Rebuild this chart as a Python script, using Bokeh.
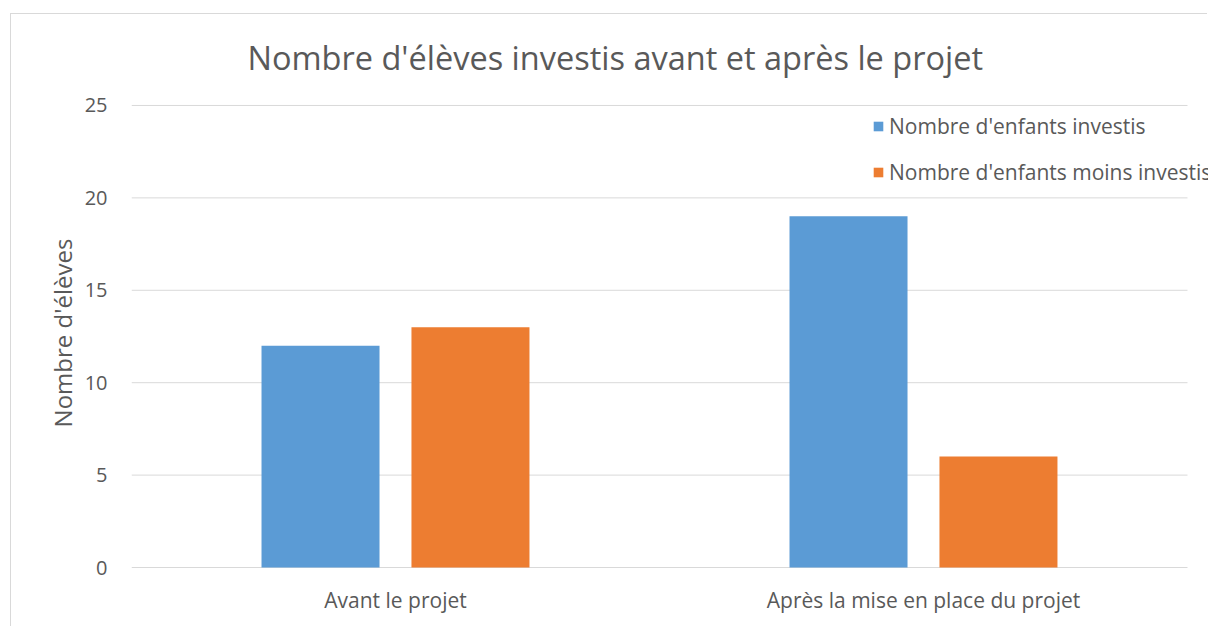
import numpy as np
from bokeh.plotting import figure
from bokeh.models import Range1d, Legend, LegendItem, Title, ColumnDataSource, FixedTicker
from bokeh.embed import file_html
from bokeh.resources import INLINE

categories = ["Avant le projet", "Après la mise en place du projet"]
investis = [12, 19]
moins_investis = [13, 6]
series_names = ["Nombre d'enfants investis", "Nombre d'enfants moins investis"]
colors = ["#5B9BD5", "#ED7D31"]
title_text = "Nombre d'élèves investis avant et après le projet"
y_label = "Nombre d'élèves"
y_ticks = [0, 5, 10, 15, 20, 25]

FONT = "Open Sans"
TXT = "#595959"
GRID = "#d9d9d9"

centers = np.arange(len(categories)) + 0.5

p = figure(width=1197, height=613, x_range=Range1d(0, 2.0398),
           y_range=Range1d(-0.054, 25.432), output_backend="svg", toolbar_location=None,
           min_border_left=120, min_border_right=0, min_border_top=82, min_border_bottom=59)
p.outline_line_color = None
p.styles = {"margin-left": "10px", "margin-top": "13px",
            "border-left": "1px solid #d9d9d9", "border-top": "1px solid #d9d9d9"}

# gridlines spanning the category area only
p.segment(x0=0, x1=len(categories), y0=y_ticks, y1=y_ticks, line_color=GRID, line_width=1)

r1 = p.vbar(x=centers - 0.142, top=investis, width=0.2235, color=colors[0], line_color=None)
r2 = p.vbar(x=centers + 0.142, top=moins_investis, width=0.2235, color=colors[1], line_color=None)

p.xgrid.grid_line_color = None
p.ygrid.grid_line_color = None

p.yaxis.ticker = FixedTicker(ticks=y_ticks)
p.yaxis.axis_line_color = None
p.yaxis.major_tick_line_color = None
p.yaxis.minor_tick_line_color = None
p.yaxis.major_label_standoff = 18
p.yaxis.major_label_text_font = FONT
p.yaxis.major_label_text_font_size = "20px"
p.yaxis.major_label_text_color = TXT
p.yaxis.axis_label = y_label
p.yaxis.axis_label_text_font = FONT
p.yaxis.axis_label_text_font_size = "24px"
p.yaxis.axis_label_text_font_style = "normal"
p.yaxis.axis_label_text_color = TXT
p.yaxis.axis_label_standoff = 3

p.xaxis.ticker = FixedTicker(ticks=list(centers))
p.xaxis.major_label_overrides = {float(c): cat for c, cat in zip(centers, categories)}
p.xaxis.axis_line_color = None
p.xaxis.major_tick_line_color = None
p.xaxis.minor_tick_line_color = None
p.xaxis.major_label_standoff = 11
p.xaxis.major_label_text_font = FONT
p.xaxis.major_label_text_font_size = "21px"
p.xaxis.major_label_text_color = TXT

p.title = Title(text=title_text, align="left", offset=116, text_font=FONT, text_font_size="32.5px",
                text_font_style="normal", text_color=TXT, standoff=36)

legend = Legend(items=[LegendItem(label=series_names[0], renderers=[r1]),
                       LegendItem(label=series_names[1], renderers=[r2])],
                location=(741, 382), orientation="vertical",
                glyph_width=12, glyph_height=12, label_height=20, spacing=18, padding=0,
                label_standoff=5, border_line_color=None, background_fill_alpha=0,
                label_text_font=FONT, label_text_font_size="21px", label_text_color=TXT,
                margin=0)
p.add_layout(legend)

open("out.html", "w").write(file_html(p, INLINE))
